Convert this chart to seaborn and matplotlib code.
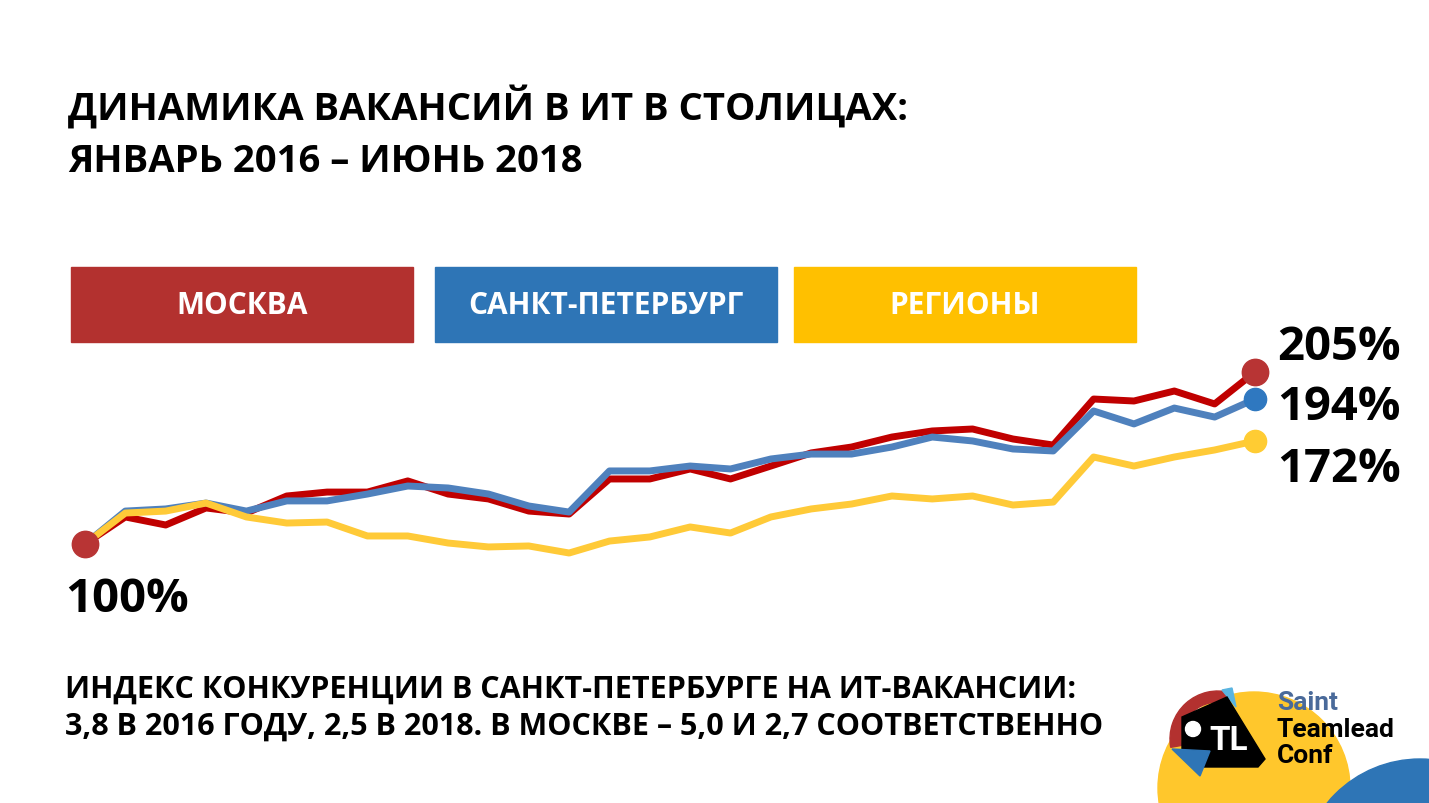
import numpy as np
import pandas as pd
import seaborn as sns
import matplotlib.pyplot as plt
from matplotlib.patches import Rectangle, Circle, Polygon, Wedge

sns.set_theme(style="white")
plt.rcParams['font.family'] = ['Open Sans', 'DejaVu Sans']
plt.rcParams['text.color'] = 'black'

# monthly index, January 2016 = 100
months = pd.date_range('2016-01-01', '2018-06-01', freq='MS')
moscow = [100, 116.5, 111.6, 122.0, 118.9, 129.3, 131.7, 131.7, 138.5, 130.5,
          127.5, 120.1, 118.3, 139.7, 139.7, 145.8, 139.7, 147.6, 155.6, 159.2,
          165.3, 169.0, 170.2, 164.1, 160.4, 188.5, 187.3, 193.4, 185.5, 205.0]
spb = [100, 120.1, 121.4, 125.0, 120.1, 126.3, 126.3, 130.5, 135.4, 134.2,
       130.5, 123.2, 119.5, 144.6, 144.6, 147.6, 145.8, 151.9, 154.9, 154.9,
       159.2, 165.3, 162.9, 158.0, 156.8, 181.2, 173.3, 183.0, 177.5, 188.5]
regions = [100, 118.9, 120.1, 125.0, 116.5, 112.8, 113.4, 104.9, 104.9, 100.6,
           98.2, 98.8, 94.5, 101.8, 104.3, 110.4, 106.7, 116.5, 121.4, 124.4,
           129.3, 127.5, 129.3, 123.8, 125.6, 153.1, 147.6, 153.1, 157.4, 162.9]

cities = ['МОСКВА', 'САНКТ-ПЕТЕРБУРГ', 'РЕГИОНЫ']
end_labels = ['205%', '194%', '172%']
start_label = '100%'
line_colors = ['#C00000', '#4F81BD', '#FFCA38']
dot_colors = ['#B83434', '#2F78C0', '#FFCC33']
box_colors = ['#B3312F', '#2E75B6', '#FFC000']

df = pd.DataFrame({
    'month': list(months) * 3,
    'idx': np.arange(len(months)).tolist() * 3,
    'value': moscow + spb + regions,
    'city': [c for c in cities for _ in months],
})

W, H = 1429, 804
fig = plt.figure(figsize=(W / 100, H / 100), dpi=100)
fig.patch.set_facecolor('white')


def px(x, y):
    return x / W, 1 - y / H


ax = fig.add_axes([85 / W, (H - 545) / H, 1170 / W, 172 / H])
sns.lineplot(data=df, x='idx', y='value', hue='city', hue_order=cities,
             palette=line_colors, linewidth=5, legend=False, ax=ax)
for ln in ax.lines:
    ln.set_clip_on(False)
    ln.set_solid_joinstyle('round')
    ln.set_solid_capstyle('round')
ax.set_xlim(0, len(months) - 1)
ax.set_ylim(100, 205)
ax.axis('off')

# end markers and start marker
last = len(months) - 1
for series, col, ms in zip([moscow, spb, regions], dot_colors, [19, 16, 16]):
    ax.plot([last], [series[-1]], 'o', color=col, markersize=ms, clip_on=False, zorder=5)
ax.plot([0], [moscow[0]], 'o', color=dot_colors[0], markersize=19, clip_on=False, zorder=5)

# titles
fig.text(*px(68, 120), 'ДИНАМИКА ВАКАНСИЙ В ИТ В СТОЛИЦАХ:', fontsize=27.5,
         fontweight='bold', va='baseline')
fig.text(*px(68, 172), 'ЯНВАРЬ 2016 – ИЮНЬ 2018', fontsize=27.5,
         fontweight='bold', va='baseline')

# legend boxes
boxes = [(71, 413), (435, 777), (794, 1136)]
for (x0, x1), col, name in zip(boxes, box_colors, cities):
    fig.patches.append(Rectangle(px(x0, 343), (x1 - x0) / W, 75 / H,
                                 transform=fig.transFigure, color=col))
    fig.text(*px((x0 + x1) / 2, 306), name, fontsize=21.5, fontweight='bold',
             color='white', ha='center', va='center')

# value labels
fig.text(*px(65, 612), start_label, fontsize=34, fontweight='bold', va='baseline')
for lab, yb in zip(end_labels, [360, 420, 482]):
    fig.text(*px(1277, yb), lab, fontsize=34, fontweight='bold', va='baseline')

# footnote
fig.text(*px(65, 698), 'ИНДЕКС КОНКУРЕНЦИИ В САНКТ-ПЕТЕРБУРГЕ НА ИТ-ВАКАНСИИ:',
         fontsize=22, fontweight='bold', va='baseline')
fig.text(*px(65, 735), '3,8 В 2016 ГОДУ, 2,5 В 2018. В МОСКВЕ – 5,0 И 2,7 СООТВЕТСТВЕННО',
         fontsize=22, fontweight='bold', va='baseline')

# conference logo
lg = fig.add_axes([0, 0, 1, 1], zorder=-1)
lg.set_xlim(0, W)
lg.set_ylim(H, 0)
lg.axis('off')
lg.add_patch(Circle((1254, 789), 96, color='#FFC72C'))
lg.add_patch(Circle((1420, 880), 120, color='#2E75B6'))
lg.add_patch(Wedge((1218, 740), 48, 170, 286, width=11, color='#B3312F'))
lg.add_patch(Polygon([(1222, 691), (1232, 689), (1236, 708)], color='#5AB4E0'))
lg.add_patch(Polygon([(1182, 718), (1227, 698), (1265, 760), (1258, 768),
                      (1198, 768), (1182, 750)], closed=True, color='black'))
lg.add_patch(Polygon([(1172, 750), (1210, 752), (1200, 777)], color='#2E75B6'))
lg.add_patch(Circle((1193, 730), 7.5, color='white'))
lg.text(1229, 741, 'TL', fontsize=24, fontweight='bold', color='white',
        ha='center', va='center', family='Roboto')
lg.text(1277, 710, 'Saint', fontsize=19, fontweight='bold', color='#4A6A9A',
        va='baseline', family='Roboto')
lg.text(1277, 737, 'Teamlead', fontsize=19, fontweight='bold', color='black',
        va='baseline', family='Roboto')
lg.text(1277, 763, 'Conf', fontsize=19, fontweight='bold', color='black',
        va='baseline', family='Roboto')

fig.savefig('out.png', dpi=100, facecolor='white')
